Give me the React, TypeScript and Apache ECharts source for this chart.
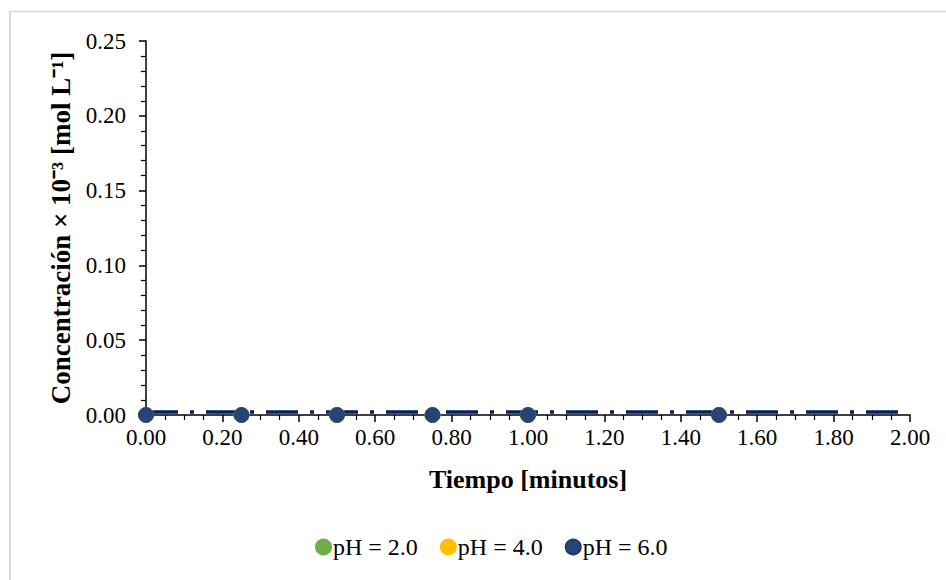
import React, { useEffect, useRef } from "react";
import * as echarts from "echarts";

const tiempo = [0, 0.25, 0.5, 0.75, 1.0, 1.5];
const ph2 = [0, 0, 0, 0, 0, 0];
const ph4 = [0, 0, 0, 0, 0, 0];
const ph6 = [0, 0, 0, 0, 0, 0];
const trendX = [0, 2.0];
const trendY = [0.002, 0.002];
const seriesNames = ["pH = 2.0", "pH = 4.0", "pH = 6.0"];
const seriesColors = ["#70AD47", "#FFC000", "#264478"];

export default function App() {
  const ref = useRef<HTMLDivElement>(null);
  useEffect(() => {
    if (!ref.current) return;
    const chart = echarts.init(ref.current, undefined, { renderer: "svg" });
    const font = "Liberation Serif";
    const mk = (vals: number[]) => tiempo.map((t, i) => [t, vals[i]]);
    const datasets = [ph2, ph4, ph6];
    chart.setOption({
      animation: false,
      backgroundColor: "#ffffff",
      textStyle: { fontFamily: font },
      grid: { left: 146, right: 36, top: 41, bottom: 165, containLabel: false },
      legend: {
        data: seriesNames,
        bottom: 16,
        left: 310,
        icon: "circle",
        itemWidth: 15,
        itemHeight: 15,
        itemGap: 22,
        textStyle: { fontFamily: font, fontSize: 24, color: "#000", padding: [0, 0, 0, -3] },
      },
      graphic: [
        {
          type: "line",
          shape: { x1: 10, y1: 11.5, x2: 946, y2: 11.5 },
          style: { stroke: "#d9d9d9", lineWidth: 1.5 },
          silent: true,
        },
        {
          type: "line",
          shape: { x1: 10, y1: 11, x2: 10, y2: 580 },
          style: { stroke: "#d9d9d9", lineWidth: 2 },
          silent: true,
        },
      ],
      xAxis: {
        type: "value",
        min: 0,
        max: 2,
        interval: 0.2,
        name: "Tiempo [minutos]",
        nameLocation: "middle",
        nameGap: 51,
        nameTextStyle: { fontFamily: font, fontSize: 26, fontWeight: "bold", color: "#000" },
        axisLine: { show: true, onZero: false, lineStyle: { color: "#000", width: 1.5 } },
        axisTick: { show: true, inside: false, length: 7, lineStyle: { color: "#000", width: 1.5 } },
        minorTick: { show: true, splitNumber: 4, length: 5, lineStyle: { color: "#000", width: 1.2 } },
        axisLabel: {
          formatter: (v: number) => v.toFixed(2),
          fontFamily: font,
          fontSize: 23,
          color: "#000",
          margin: 11,
        },
        splitLine: { show: false },
      },
      yAxis: {
        type: "value",
        min: 0,
        max: 0.25,
        interval: 0.05,
        name: "Concentración × 10⁻³ [mol L⁻¹]",
        nameLocation: "middle",
        nameGap: 71,
        nameTextStyle: { fontFamily: font, fontSize: 27, fontWeight: "bold", color: "#000" },
        axisLine: { show: true, lineStyle: { color: "#000", width: 1.5 } },
        axisTick: { show: true, inside: false, length: 7, lineStyle: { color: "#000", width: 1.5 } },
        minorTick: { show: true, splitNumber: 5, length: 5, lineStyle: { color: "#000", width: 1.2 } },
        axisLabel: {
          formatter: (v: number) => v.toFixed(2),
          fontFamily: font,
          fontSize: 23,
          color: "#000",
          margin: 20,
        },
        splitLine: { show: false },
      },
      series: [
        {
          name: "Tendencia",
          type: "line",
          data: trendX.map((x, i) => [x, trendY[i]]),
          symbol: "none",
          lineStyle: { color: "#002060", width: 3.5, type: [32, 12, 4, 12] },
          silent: true,
          z: 1,
        },
        ...datasets.map((d, i) => ({
          name: seriesNames[i],
          type: "scatter",
          data: mk(d),
          symbol: "circle",
          symbolSize: 15,
          itemStyle: {
            color: seriesColors[i],
            opacity: 1,
            borderColor: i === 2 ? "#1f3864" : seriesColors[i],
            borderWidth: 0.8,
          },
          z: 2 + i,
        })),
      ],
    });
    return () => chart.dispose();
  }, []);
  return <div ref={ref} style={{ position: "absolute", left: 0, top: 0, width: 946, height: 580 }} />;
}
